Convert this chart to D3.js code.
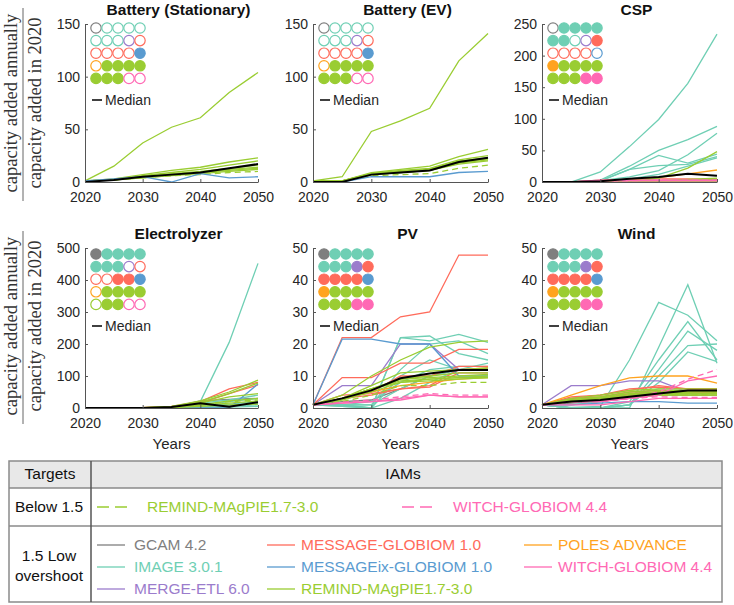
<!DOCTYPE html>
<html><head><meta charset="utf-8">
<script src="https://cdn.jsdelivr.net/npm/d3@7/dist/d3.min.js"></script>
<style>body{margin:0;background:#fff}svg{display:block}</style>
</head><body><svg id="c" width="734" height="605"></svg>
<script>
const years = [2020,2025,2030,2035,2040,2045,2050];
const xTickValues = [2020,2030,2040,2050];
const modelNames = ["GCAM 4.2","IMAGE 3.0.1","MERGE-ETL 6.0","MESSAGE-GLOBIOM 1.0","MESSAGEix-GLOBIOM 1.0","POLES ADVANCE","REMIND-MAgPIE1.7-3.0","WITCH-GLOBIOM 4.4"];
const modelColors = ["#7f7f7f","#6fcfb4","#9b7ccc","#ff6b5b","#5a9bd0","#ffa31f","#9acd32","#ff69b4"];
const gridModels = [0,1,1,1,1, 1,1,1,2,3, 3,3,3,3,4, 5,6,6,6,6, 6,6,6,7,7];
const panelTitles = ["Battery (Stationary)","Battery (EV)","CSP","Electrolyzer","PV","Wind"];
const panelYMax = [150,150,250,500,50,50];
const panelYTicks = [[0,50,100,150],[0,50,100,150],[0,50,100,150,200,250],[0,100,200,300,400,500],[0,10,20,30,40,50],[0,10,20,30,40,50]];

const fillBatStat = [0,0,0,0,0, 0,0,0,0,0, 0,0,0,0,1, 0,1,1,1,1, 1,1,1,0,0];
const fillBatEV   = [0,0,0,0,0, 0,0,0,0,0, 0,0,0,0,1, 0,1,1,1,1, 1,1,1,0,0];
const fillCSP     = [0,1,1,1,1, 1,1,0,0,1, 0,0,0,0,0, 1,1,1,1,1, 1,1,1,1,1];
const fillElec    = [1,1,1,1,1, 1,1,1,0,0, 0,0,1,1,1, 0,1,1,1,1, 0,1,1,0,0];
const fillPV      = [1,1,1,1,1, 1,1,1,1,1, 1,1,1,1,1, 1,1,1,1,1, 1,1,1,1,1];
const fillWind    = [1,1,1,1,1, 1,1,1,1,1, 1,1,1,1,1, 1,1,1,1,1, 1,1,1,1,1];

// series: [model, dashed, values 2020..2050]
const seriesBatStat = [
 [6,0, 1,15,37,52,61,85,104],
 [6,0, 1,3,7,11,14,19,23],
 [6,0, 1,2,6,9,12,16,20],
 [6,0, 1,2,5,8,10,13,16],
 [6,0, 1,2,5,7,9,12,14],
 [6,0, 1,2,4,6,8,10,12],
 [6,0, 1,2,4,7,9,11,13],
 [6,1, 1,2,4,6,7,9,10],
 [4,0, 1,3,5,0,8,4,5]];
const medianBatStat = [0,2,5,7,9,13,17];

const seriesBatEV = [
 [6,0, 1,5,48,58,70,115,141],
 [6,0, 1,1,9,12,15,24,31],
 [6,0, 1,1,8,11,13,21,25],
 [6,0, 1,1,8,10,12,20,23],
 [6,0, 1,1,7,9,11,18,21],
 [6,0, 1,1,8,10,12,19,22],
 [6,0, 1,1,7,9,11,17,20],
 [6,1, 1,1,6,7,8,13,16],
 [4,0, 0,0,5,5,5,9,10]];
const medianBatEV = [0,0,7,9,11,19,23];

const seriesCSP = [
 [1,0, 0,0,16,56,99,156,234],
 [1,0, 0,0,3,25,50,67,88],
 [1,0, 0,0,2,8,18,43,77],
 [1,0, 0,0,2,20,42,30,44],
 [1,0, 0,0,2,20,26,28,40],
 [1,0, 0,0,1,5,12,25,38],
 [3,0, 0,0,3,4,5,5,4],
 [5,0, 0,0,1,3,7,13,19],
 [6,0, 0,0,0,1,6,22,48],
 [6,0, 0,0,0,1,2,4,6],
 [6,0, 0,0,0,0,1,2,3],
 [6,0, 0,0,0,1,2,3,4],
 [6,0, 0,0,0,0,1,1,2],
 [6,0, 0,0,0,0,0,1,1],
 [6,0, 0,0,0,1,1,2,3],
 [6,1, 0,0,0,1,2,3,5],
 [7,0, 0,0,2,2,2,2,2],
 [7,0, 0,0,3,3,3,3,3],
 [7,1, 0,0,2,2,3,3,3]];
const medianCSP = [0,0,1,5,8,13,10];

const seriesElec = [
 [0,0, 0,0,0,1,22,27,30],
 [1,0, 0,0,0,0,20,205,452],
 [1,0, 0,0,0,0,15,25,40],
 [1,0, 0,0,0,0,10,20,30],
 [1,0, 0,0,0,0,5,12,20],
 [1,0, 0,0,0,0,3,8,15],
 [1,0, 0,0,0,0,2,5,10],
 [1,0, 0,0,0,0,1,3,5],
 [3,0, 0,0,1,5,20,60,80],
 [3,0, 0,0,1,4,15,45,72],
 [4,0, 0,0,0,0,0,0,75],
 [6,0, 0,0,1,5,22,50,87],
 [6,0, 0,0,1,4,18,45,78],
 [6,0, 0,0,0,3,15,35,45],
 [6,0, 0,0,0,2,10,22,30],
 [6,0, 0,0,0,2,8,15,22],
 [6,0, 0,0,0,1,5,10,12],
 [6,1, 0,0,0,2,10,20,25]];
const medianElec = [0,0,0,3,15,4,18];

const seriesPV = [
 [0,0, 1,2,2.5,6,10,12,12],
 [1,0, 1,0.5,0,22,22.5,17,15],
 [1,0, 1,0.5,0,22,21,23,20.5],
 [1,0, 1,1,1,12,20,21,17],
 [1,0, 1,1,0,10,15,12,14],
 [1,0, 1,1,2,8,12,13,13],
 [1,0, 1,1,1,6,10,12,12],
 [1,0, 1,1,0,3,8,12,12],
 [2,0, 1,7,7,20,20,12,12],
 [3,0, 1,22,22,28.5,30,47.8,47.8],
 [3,0, 1,9.5,9.5,14,14,18.3,18.3],
 [3,0, 1,4,4.5,6,6.5,11,11],
 [3,0, 1,3,4,6,7,12,12.5],
 [3,0, 1,3,5,10,10,13,13],
 [4,0, 1,21.5,21.5,20,20,10,10],
 [5,0, 1,3,5,7,8,9,9.5],
 [6,0, 1,4,10,15,19,20.5,21],
 [6,0, 1,3,7,11,11.5,12,12.5],
 [6,0, 1,3,6,8.5,9,9.5,9.5],
 [6,0, 1,3,6,8,9,9.5,10],
 [6,0, 1,2.5,5,8,8.5,9,9.5],
 [6,0, 1,3,6,9,10,11,11],
 [6,0, 1,3,6,9,9.5,10,10.5],
 [6,1, 1,2,4,7,7,8,8],
 [7,0, 1,1.5,2,3,4,3.5,3.5],
 [7,0, 1,1.5,2,2.5,4,3.5,3.5],
 [7,1, 1,1.8,2.5,3.5,4.5,4,4]];
const medianPV = [1,3,5.5,9.3,10.8,11.9,11.9];

const seriesWind = [
 [0,0, 1,1.5,2,3,4,4,4],
 [1,0, 1,0.2,0.5,15,33,29,21],
 [1,0, 1,0,0,0,19,38.5,14],
 [1,0, 1,0,0,2,15,27,15],
 [1,0, 1,0,0,1,12,24,18],
 [1,0, 1,0,0,1,10,19.5,20],
 [1,0, 1,0,0,1,8,17.5,14.5],
 [1,0, 1,1,2,4,6,6,5],
 [2,0, 1,7,7,8.5,8.5,5,5],
 [3,0, 1,3.5,4,5.5,7,6,6],
 [3,0, 1,3,4,6,6.5,6,6],
 [3,0, 1,3,3.5,5,5.5,5,5],
 [3,0, 1,2.5,3,4.5,5,5,5],
 [3,0, 1,2,3,4,5,4.5,4.5],
 [4,0, 1,1,1.5,2,2,1.5,1.5],
 [5,0, 1,4,7,9.4,10,10,7.8],
 [6,0, 1,3,4,5.5,6,6,6],
 [6,0, 1,2.5,3.5,4.5,5,5,5],
 [6,0, 1,2.5,3,4,4.5,4.5,4.5],
 [6,0, 1,2,3,4,5,5,5.5],
 [6,0, 1,2.5,3.5,5,5.5,5.5,5],
 [6,0, 1,2,3,3.5,4,4,4],
 [6,0, 1,2,3,4,4.5,4,4],
 [6,1, 1,2,3,3.5,4,4,4.5],
 [7,0, 1,2,2,3,4,8.5,10],
 [7,0, 1,1,1,2,3,3,3],
 [7,1, 1,2,2,3,5,9,12],
 [7,1, 1,2,2,3,3.5,3.3,3.3]];
const medianWind = [1,2,2.5,3.5,4.5,5.5,5.5];

const yLabelTop = "capacity added annually";
const yLabelBottom = "capacity added in 2020";
const tableHeaders = ["Targets","IAMs"];
const targetBelow = "Below 1.5";
const targetLow = ["1.5 Low","overshoot"];
const belowModels = [6,7];
const lowModelCols = [[0,1,2],[3,4,6],[5,7]];

// ---------- drawing ----------
const svg = d3.select("#c");
const FONT = "'Liberation Sans', Arial, Helvetica, sans-serif";
const TXT = "#262626";

const allSeries = [seriesBatStat, seriesBatEV, seriesCSP, seriesElec, seriesPV, seriesWind];
const allMedians = [medianBatStat, medianBatEV, medianCSP, medianElec, medianPV, medianWind];
const allFills = [fillBatStat, fillBatEV, fillCSP, fillElec, fillPV, fillWind];

const colX = [[85,258],[313,488],[542,717]];
const rowY = [[24,182],[248,408]];

panelTitles.forEach((title, p) => {
  const cx = colX[p % 3], ry = rowY[Math.floor(p / 3)];
  const x = d3.scaleLinear().domain([2020, 2050]).range(cx);
  const y = d3.scaleLinear().domain([0, panelYMax[p]]).range([ry[1], ry[0]]);
  const g = svg.append("g");

  // series
  const line = d3.line().x((d, i) => x(years[i])).y(d => y(d));
  allSeries[p].forEach(s => {
    g.append("path").attr("d", line(s.slice(2)))
      .attr("fill", "none").attr("stroke", modelColors[s[0]])
      .attr("stroke-width", 1.3)
      .attr("stroke-dasharray", s[1] ? "6,4" : null);
  });
  g.append("path").attr("d", line(allMedians[p]))
    .attr("fill", "none").attr("stroke", "#000").attr("stroke-width", 2);

  // axes
  const ax = g.append("g").attr("transform", `translate(0,${ry[1]})`)
    .call(d3.axisBottom(x).tickValues(xTickValues).tickFormat(d3.format("d")).tickSizeInner(-3).tickSizeOuter(0).tickPadding(10));
  const ay = g.append("g").attr("transform", `translate(${cx[0]},0)`)
    .call(d3.axisLeft(y).tickValues(panelYTicks[p]).tickSizeInner(-3).tickSizeOuter(0).tickPadding(5));
  [ax, ay].forEach(a => {
    a.selectAll("text").attr("font-size", 14).attr("font-family", FONT).attr("fill", TXT);
    a.select(".domain").attr("stroke", "#555");
    a.selectAll(".tick line").attr("stroke", "#555");
  });

  // title
  g.append("text").attr("x", (cx[0] + cx[1]) / 2 + 7).attr("y", ry[0] - 9)
    .attr("text-anchor", "middle").attr("font-family", FONT).attr("font-weight", "bold")
    .attr("font-size", 15.5).attr("fill", "#111").text(title);

  // circle legend grid
  const gx = cx[0] + 11, gy = ry[0] + (p < 3 ? 4 : 6);
  gridModels.forEach((m, i) => {
    const c = i % 5, r = Math.floor(i / 5);
    const filled = allFills[p][i];
    g.append("circle").attr("cx", gx + c * 11).attr("cy", gy + r * 12.6).attr("r", 5.2)
      .attr("fill", filled ? modelColors[m] : "#fff")
      .attr("stroke", modelColors[m]).attr("stroke-width", 1.2);
  });
  const my = gy + 72;
  g.append("line").attr("x1", gx - 4).attr("x2", gx + 6).attr("y1", my).attr("y2", my)
    .attr("stroke", "#000").attr("stroke-width", 1.5);
  g.append("text").attr("x", gx + 9).attr("y", my).attr("dy", "0.35em")
    .attr("font-family", FONT).attr("font-size", 14).attr("fill", TXT).text("Median");

  if (p >= 3) {
    g.append("text").attr("x", (cx[0] + cx[1]) / 2).attr("y", 449)
      .attr("text-anchor", "middle").attr("font-family", FONT).attr("font-size", 15)
      .attr("fill", TXT).text("Years");
  }
});

// left fraction labels
[103, 326].forEach(cy => {
  const SERIF = "'Liberation Serif', 'Times New Roman', serif";
  svg.append("text").attr("transform", `translate(11,${cy}) rotate(-90)`)
    .attr("text-anchor", "middle").attr("dominant-baseline", "central")
    .attr("font-family", SERIF).attr("font-size", 18.5).attr("fill", "#333").text(yLabelTop);
  svg.append("line").attr("x1", 23).attr("x2", 23).attr("y1", cy - 95).attr("y2", cy + 98)
    .attr("stroke", "#666").attr("stroke-width", 1);
  svg.append("text").attr("transform", `translate(35,${cy}) rotate(-90)`)
    .attr("text-anchor", "middle").attr("dominant-baseline", "central")
    .attr("font-family", SERIF).attr("font-size", 18.5).attr("fill", "#333").text(yLabelBottom);
});

// legend table
const T = {x0: 9, x1: 722, y0: 461, yh: 488, yr: 526, y1: 602, xc: 91};
const tg = svg.append("g");
tg.append("rect").attr("x", T.x0).attr("y", T.y0).attr("width", T.x1 - T.x0).attr("height", T.yh - T.y0)
  .attr("fill", "#e8e8e8");
tg.append("rect").attr("x", T.x0).attr("y", T.y0).attr("width", T.x1 - T.x0).attr("height", T.y1 - T.y0)
  .attr("fill", "none").attr("stroke", "#8a8a8a").attr("stroke-width", 1.5);
[T.yh, T.yr].forEach(yy => tg.append("line").attr("x1", T.x0).attr("x2", T.x1).attr("y1", yy).attr("y2", yy)
  .attr("stroke", "#8a8a8a").attr("stroke-width", 1.3));
tg.append("line").attr("x1", T.xc).attr("x2", T.xc).attr("y1", T.y0).attr("y2", T.y1)
  .attr("stroke", "#555").attr("stroke-width", 1.5);

const tText = (x, y, s, color, anchor) => tg.append("text").attr("x", x).attr("y", y).attr("dy", "0.35em")
  .attr("text-anchor", anchor || "start").attr("font-family", FONT).attr("font-size", 15.5)
  .attr("fill", color || "#111").text(s);

tText(50, 474, tableHeaders[0], "#111", "middle");
tText(403, 474, tableHeaders[1], "#111", "middle");
tText(49, 507, targetBelow, "#111", "middle");
tText(49, 556, targetLow[0], "#111", "middle");
tText(49, 576, targetLow[1], "#111", "middle");

// below 1.5 entries
const belowPos = [[97, 147], [402, 453]];
belowModels.forEach((m, i) => {
  const [lx, tx] = belowPos[i];
  tg.append("line").attr("x1", lx).attr("x2", lx + 31).attr("y1", 507).attr("y2", 507)
    .attr("stroke", modelColors[m]).attr("stroke-width", 1.3).attr("stroke-dasharray", "12,6");
  tText(tx, 507, modelNames[m], modelColors[m]);
});

// low overshoot entries
const colPos = [[97, 134], [267, 301], [524, 558]];
const rowPos = [545, 567, 589];
lowModelCols.forEach((col, ci) => {
  col.forEach((m, ri) => {
    const [lx, tx] = colPos[ci];
    const yy = rowPos[ri];
    tg.append("line").attr("x1", lx).attr("x2", lx + 28).attr("y1", yy).attr("y2", yy)
      .attr("stroke", modelColors[m]).attr("stroke-width", 1.3);
    tText(tx, yy, modelNames[m], modelColors[m]);
  });
});
</script></body></html>
